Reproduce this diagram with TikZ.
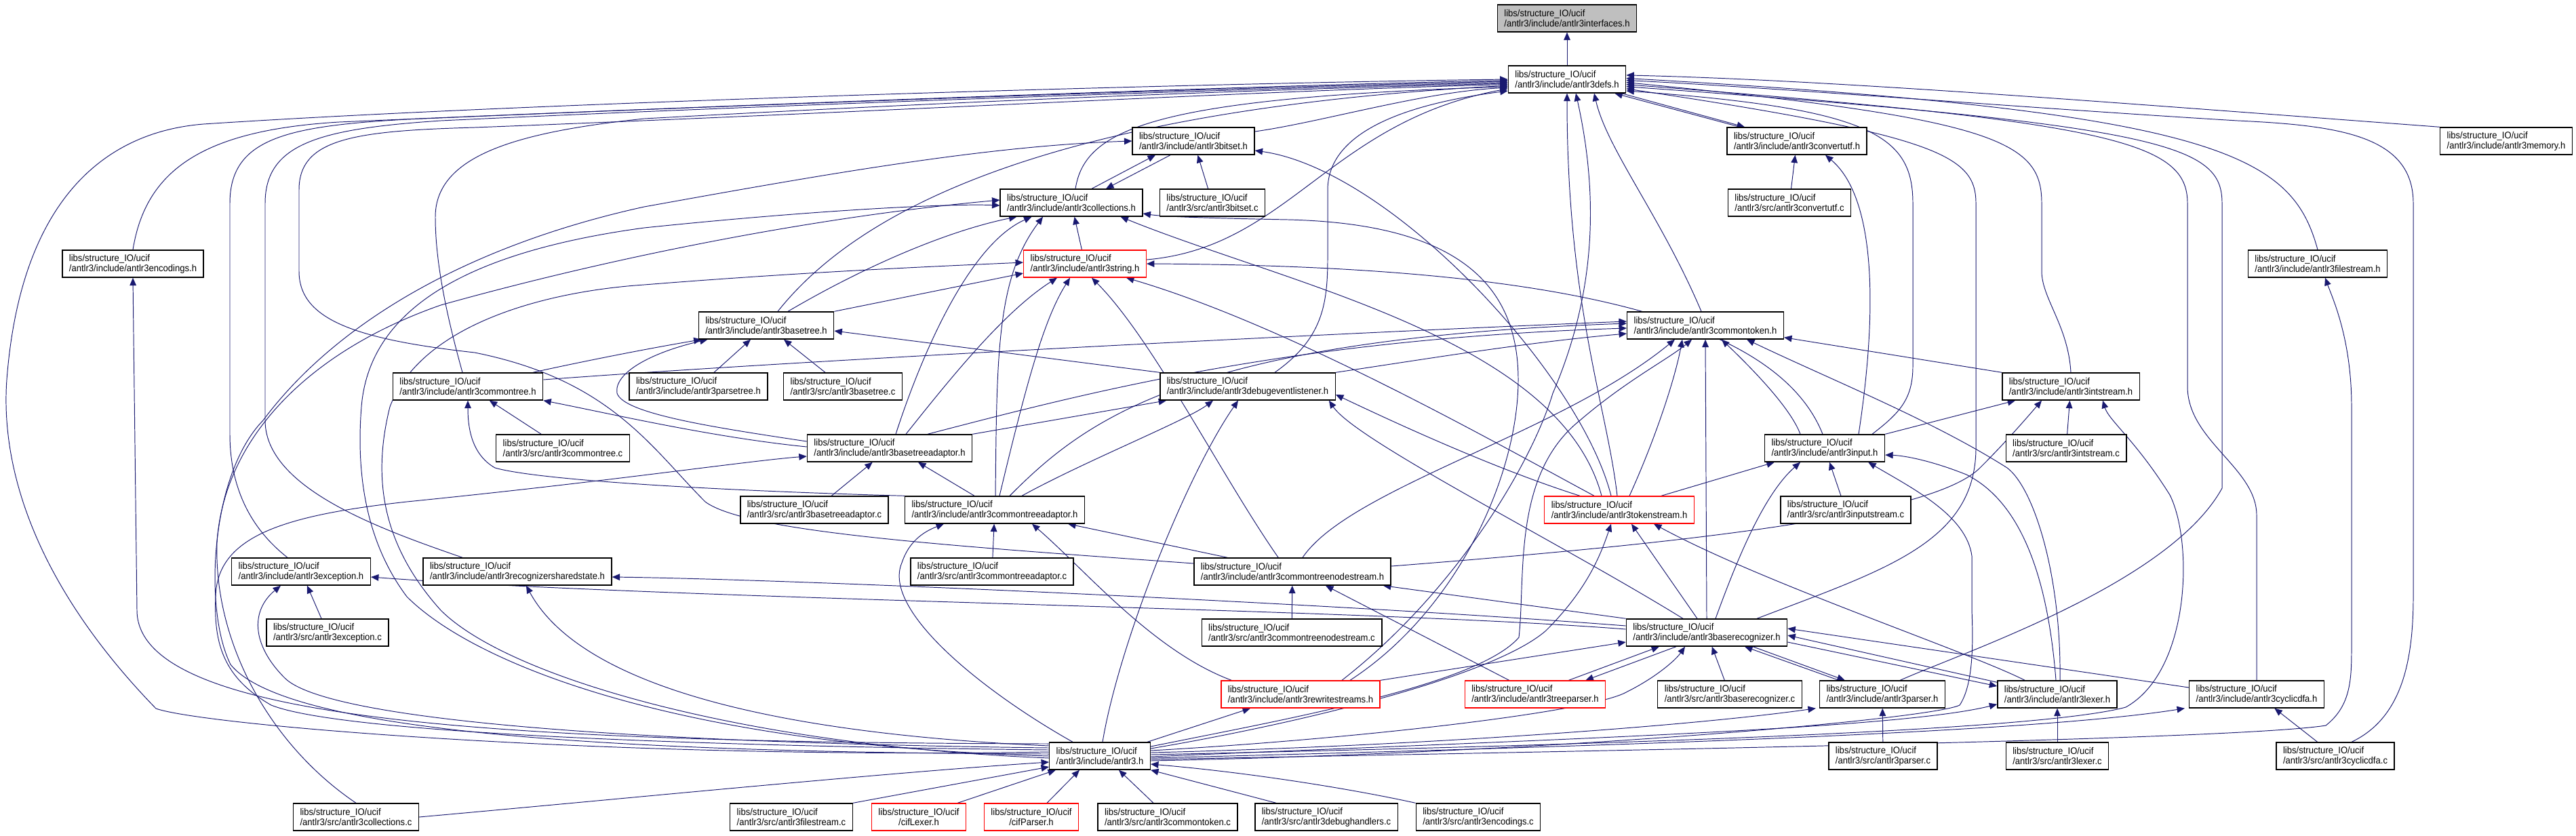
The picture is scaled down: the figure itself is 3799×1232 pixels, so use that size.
\documentclass[tikz,border=0pt]{standalone}
\usepackage{fontspec}
\usetikzlibrary{arrows.meta,calc,backgrounds}
\newfontfamily\doxyfont{Liberation Sans}[FakeStretch=0.93]
\definecolor{doxyedge}{HTML}{191970}
\definecolor{doxyroot}{HTML}{BFBFBF}
\tikzset{
  file/.style={draw=black, line width=0.8pt, fill=white, align=left,
    font=\doxyfont\fontsize{8pt}{8.6pt}\selectfont,
    inner xsep=0.2cm, inner ysep=0pt, minimum height=0.8cm},
  truncfile/.style={file, draw=red},
  rootfile/.style={file, fill=doxyroot},
  incl/.style={draw=doxyedge, line width=0.55pt, -{Triangle[length=6.5pt,width=5.5pt]}},
}
\newcommand{\ucif}{libs/structure\_IO/ucif}
\begin{document}
\begin{tikzpicture}[x=0.02cm, y=-0.02cm]
    \useasboundingbox (0,0) rectangle (3799,1232);

    % Headers
    \node[rootfile] (intf) at (2311,27) {\ucif\\/antlr3/include/antlr3interfaces.h};
    \node[file] (defs) at (2311,117) {\ucif\\/antlr3/include/antlr3defs.h};
    \node[file] (bitseth) at (1760,208) {\ucif\\/antlr3/include/antlr3bitset.h};
    \node[file] (cutfh) at (2650,208) {\ucif\\/antlr3/include/antlr3convertutf.h};
    \node[file] (memh) at (3696,208) {\ucif\\/antlr3/include/antlr3memory.h};
    \node[file] (collh) at (1580,299) {\ucif\\/antlr3/include/antlr3collections.h};
    \node[file] (ench) at (196,389) {\ucif\\/antlr3/include/antlr3encodings.h};
    \node[truncfile] (strh) at (1600,389) {\ucif\\/antlr3/include/antlr3string.h};
    \node[file] (fsh) at (3418,389) {\ucif\\/antlr3/include/antlr3filestream.h};
    \node[file] (btreeh) at (1130,480) {\ucif\\/antlr3/include/antlr3basetree.h};
    \node[file] (ctokh) at (2515,480) {\ucif\\/antlr3/include/antlr3commontoken.h};
    \node[file] (ctreeh) at (690,570) {\ucif\\/antlr3/include/antlr3commontree.h};
    \node[file] (ptreeh) at (1030,570) {\ucif\\/antlr3/include/antlr3parsetree.h};
    \node[file] (dbgh) at (1840,570) {\ucif\\/antlr3/include/antlr3debugeventlistener.h};
    \node[file] (intsh) at (3054,570) {\ucif\\/antlr3/include/antlr3intstream.h};
    \node[file] (btah) at (1312,661) {\ucif\\/antlr3/include/antlr3basetreeadaptor.h};
    \node[file] (inph) at (2691,661) {\ucif\\/antlr3/include/antlr3input.h};
    \node[file] (ctah) at (1467,752) {\ucif\\/antlr3/include/antlr3commontreeadaptor.h};
    \node[truncfile] (tsh) at (2388,752) {\ucif\\/antlr3/include/antlr3tokenstream.h};
    \node[file] (exch) at (444,843) {\ucif\\/antlr3/include/antlr3exception.h};
    \node[file] (rssh) at (763,843) {\ucif\\/antlr3/include/antlr3recognizersharedstate.h};
    \node[file] (ctnsh) at (1906,843) {\ucif\\/antlr3/include/antlr3commontreenodestream.h};
    \node[file] (brech) at (2517,933) {\ucif\\/antlr3/include/antlr3baserecognizer.h};
    \node[truncfile] (rwsh) at (1918,1024) {\ucif\\/antlr3/include/antlr3rewritestreams.h};
    \node[truncfile] (tph) at (2264,1024) {\ucif\\/antlr3/include/antlr3treeparser.h};
    \node[file] (parh) at (2776,1024) {\ucif\\/antlr3/include/antlr3parser.h};
    \node[file] (lexh) at (3034,1024) {\ucif\\/antlr3/include/antlr3lexer.h};
    \node[file] (cdfah) at (3328,1024) {\ucif\\/antlr3/include/antlr3cyclicdfa.h};
    \node[file] (antlrh) at (1622,1115) {\ucif\\/antlr3/include/antlr3.h};

    % Sources
    \node[file] (bitsetc) at (1788,299) {\ucif\\/antlr3/src/antlr3bitset.c};
    \node[file] (cutfc) at (2639,299) {\ucif\\/antlr3/src/antlr3convertutf.c};
    \node[file] (btreec) at (1243,570) {\ucif\\/antlr3/src/antlr3basetree.c};
    \node[file] (ctreec) at (830,661) {\ucif\\/antlr3/src/antlr3commontree.c};
    \node[file] (intsc) at (3047,661) {\ucif\\/antlr3/src/antlr3intstream.c};
    \node[file] (btac) at (1201,752) {\ucif\\/antlr3/src/antlr3basetreeadaptor.c};
    \node[file] (inpc) at (2722,752) {\ucif\\/antlr3/src/antlr3inputstream.c};
    \node[file] (ctac) at (1463,843) {\ucif\\/antlr3/src/antlr3commontreeadaptor.c};
    \node[file] (excc) at (483,933) {\ucif\\/antlr3/src/antlr3exception.c};
    \node[file] (ctnsc) at (1905,933) {\ucif\\/antlr3/src/antlr3commontreenodestream.c};
    \node[file] (brecc) at (2551,1024) {\ucif\\/antlr3/src/antlr3baserecognizer.c};
    \node[file] (parc) at (2777,1115) {\ucif\\/antlr3/src/antlr3parser.c};
    \node[file] (lexc) at (3034,1115) {\ucif\\/antlr3/src/antlr3lexer.c};
    \node[file] (cdfac) at (3444,1115) {\ucif\\/antlr3/src/antlr3cyclicdfa.c};
    \node[file] (collc) at (525,1205) {\ucif\\/antlr3/src/antlr3collections.c};
    \node[file] (fsc) at (1167,1205) {\ucif\\/antlr3/src/antlr3filestream.c};
    \node[truncfile, align=center] (ciflex) at (1355,1205) {\ucif\\/cifLexer.h};
    \node[truncfile, align=center] (cifpar) at (1521,1205) {\ucif\\/cifParser.h};
    \node[file] (ctokc) at (1722,1205) {\ucif\\/antlr3/src/antlr3commontoken.c};
    \node[file] (dbgc) at (1956,1205) {\ucif\\/antlr3/src/antlr3debughandlers.c};
    \node[file] (encc) at (2180,1205) {\ucif\\/antlr3/src/antlr3encodings.c};

    \begin{scope}[on background layer]
    % Into antlr3defs.h
    \draw[incl] (defs) -- (intf);
    \draw[incl] ($(defs.south east)+(-7,0)$) -- ($(cutfh.north)+(-77,0)$);
    \draw[incl] ($(cutfh.north)+(-84,0)$) -- ($(defs.south east)+(-17,0)$);
    \draw[incl] (memh.north west) .. controls (3100,150) and (2700,118) .. (defs.4);
    \draw[incl] (fsh.north) .. controls (3380,230) and (3280,165) .. (defs.1);
    \draw[incl] ($(cdfac.north)+(24,0)$) .. controls (3540,1060) and (3559,980) .. (3559,880) -- (3559,300) .. controls (3559,200) and (3450,185) .. (3300,178) .. controls (3000,160) and (2600,128) .. (defs.-1);
    \draw[incl] (intsh.north) .. controls (3050,480) and (3011,440) .. (3011,400) -- (3011,300) .. controls (3011,210) and (2950,175) .. (defs.-3);
    \draw[incl] (cdfah.north) -- (3328,760) .. controls (3328,690) and (3226,650) .. (3226,570) -- (3226,300) .. controls (3226,210) and (3120,180) .. (defs.-5);
    \draw[incl] ($(parh.north east)+(-67,0)$) .. controls (2900,960) and (3200,860) .. (3277,720) -- (3277,300) .. controls (3277,215) and (3200,185) .. (defs.-7);
    \draw[incl] ($(brech.north)+(74,0)$) .. controls (2780,840) and (2914,800) .. (2914,660) -- (2914,300) .. controls (2914,230) and (2860,200) .. (defs.-9);
    \draw[incl] ($(inph.north)+(70,0)$) .. controls (2800,610) and (2821,590) .. (2821,540) -- (2821,300) .. controls (2821,200) and (2760,160) .. (defs.-11);
    \draw[incl] ($(tsh.north)+(-3,0)$) .. controls (2370,600) and (2311,450) .. (defs.south);
    \draw[incl] ($(rwsh.north)+(61,0)$) .. controls (2150,870) and (2260,680) .. (2290,580) .. controls (2350,440) and (2360,300) .. ($(defs.south)+(13,0)$);
    \draw[incl] ($(ctokh.north)+(-6,0)$) .. controls (2450,320) and (2370,220) .. ($(defs.south)+(40,0)$);
    \draw[incl] ($(bitseth.east)+(0,-14)$) .. controls (1950,180) and (2100,135) .. (defs.188);
    \draw[incl] ($(collh.north)+(6,0)$) .. controls (1600,190) and (1700,145) .. (defs.187);
    \draw[incl] ($(strh.east)+(0,-6)$) .. controls (1900,365) and (1960,180) .. (defs.189);
    \draw[incl] ($(btreeh.north)+(17,0)$) .. controls (1250,330) and (1500,165) .. (defs.186);
    \draw[incl] ($(dbgh.north)+(40,0)$) .. controls (1950,500) and (1958,450) .. (1958,380) -- (1958,280) .. controls (1958,185) and (2100,150) .. (defs.191);
    \draw[incl] (ench.north) .. controls (215,250) and (300,192) .. (500,180) .. controls (1200,150) and (1900,125) .. (defs.181);
    \draw[incl] ($(exch.north)+(-20,0)$) .. controls (370,780) and (339,720) .. (339,640) -- (339,300) .. controls (339,205) and (420,186) .. (600,176) .. controls (1200,150) and (1900,127) .. (defs.182);
    \draw[incl] ($(rssh.north)+(-81,0)$) .. controls (560,780) and (391,720) .. (391,620) -- (391,300) .. controls (391,212) and (470,190) .. (650,178) .. controls (1200,152) and (1900,129) .. (defs.183);
    \draw[incl] ($(ctreeh.north)+(-8,0)$) .. controls (660,470) and (642,390) .. (642,320) .. controls (642,230) and (760,195) .. (950,175) .. controls (1500,145) and (1900,131) .. (defs.184);
    \draw[incl] ($(ctnsh.west)+(0,-12)$) .. controls (1400,805) and (1100,785) .. (1040,740) .. controls (960,660) and (900,560) .. (700,520) .. controls (520,500) and (441,470) .. (441,400) -- (441,280) .. controls (441,205) and (520,193) .. (700,188) .. controls (1300,165) and (1900,132) .. (defs.185);
    \draw[incl] ($(antlrh.west)+(0,-6)$) .. controls (900,1120) and (300,1070) .. (230,1045) .. controls (60,870) and (0,700) .. (10,560) .. controls (30,300) and (150,195) .. (300,183) .. controls (800,150) and (1800,122) .. (defs.180);

    % Upper headers
    \draw[incl] (cutfc) -- (cutfh);
    \draw[incl] ($(inph.north)+(50,0)$) .. controls (2770,450) and (2765,290) .. ($(cutfh.south)+(42,0)$);
    \draw[incl] ($(collh.north)+(30,0)$) -- ($(bitseth.south)+(-56,0)$);
    \draw[incl] ($(bitseth.south)+(-34,0)$) -- ($(collh.north)+(51,0)$);
    \draw[incl] (bitsetc) -- (bitseth);
    \draw[incl] ($(tsh.north)+(-12,0)$) .. controls (2330,550) and (2050,250) .. ($(bitseth.east)+(0,14)$);
    \draw[incl] (strh) -- (collh);
    \draw[incl] ($(antlrh.west)+(0,-3)$) .. controls (900,1110) and (420,1080) .. (340,980) .. controls (300,900) and (310,700) .. (388,620) .. controls (500,470) and (700,360) .. (950,305) .. controls (1200,260) and (1450,215) .. (bitseth.west);
    \draw[incl] ($(antlrh.west)+(0,0)$) .. controls (1000,1100) and (700,980) .. (600,880) .. controls (540,800) and (525,700) .. (533,600) .. controls (545,450) and (700,370) .. (950,336) .. controls (1200,310) and (1400,300) .. ($(collh.west)+(0,4)$);
    \draw[incl] (collc.north) .. controls (400,1100) and (315,950) .. (320,800) .. controls (330,650) and (450,520) .. (650,450) .. controls (900,380) and (1200,320) .. ($(collh.west)+(0,-4)$);
    \draw[incl] ($(antlrh.west)+(0,3)$) .. controls (1100,1100) and (750,1000) .. (650,900) .. controls (560,800) and (550,700) .. (575,600) .. controls (620,480) and (800,430) .. (950,420) .. controls (1200,400) and (1400,392) .. ($(strh.west)+(0,-2)$);

    % Trees
    \draw[incl] (btreeh.north east) -- ($(strh.west)+(0,14)$);
    \draw[incl] ($(btreeh.north)+(32,0)$) .. controls (1280,390) and (1400,340) .. ($(collh.south west)+(25,0)$);
    \draw[incl] (ptreeh) -- (btreeh);
    \draw[incl] (btreec) -- (btreeh);
    \draw[incl] ($(ctreeh.north)+(96,0)$) .. controls (850,535) and (950,515) .. ($(btreeh.south west)+(5,0)$);
    \draw[incl] ($(btah.west)+(0,-10)$) .. controls (1050,630) and (920,610) .. (910,580) .. controls (905,550) and (960,520) .. ($(btreeh.south west)+(14,0)$);
    \draw[incl] ($(btah.west)+(0,-2)$) .. controls (1050,645) and (900,610) .. (ctreeh.south east);
    \draw[incl] (dbgh.north west) -- ($(btreeh.east)+(0,8)$);
    \draw[incl] (ctreec) -- (ctreeh);
    \draw[incl] (ctah.north west) .. controls (1100,725) and (800,710) .. (730,690) .. controls (695,670) and (690,630) .. (ctreeh.south);
    \draw[incl] ($(ctreeh.east)+(0,-10)$) .. controls (1200,530) and (2000,490) .. ($(ctokh.west)+(0,-6)$);
    \draw[incl] (btac) -- (btah);
    \draw[incl] ($(ctah.north)+(-30,0)$) -- ($(btah.south)+(42,0)$);
    \draw[incl] ($(btah.north)+(9,0)$) .. controls (1360,520) and (1430,360) .. ($(collh.south west)+(47,0)$);
    \draw[incl] ($(btah.north)+(24,0)$) .. controls (1400,560) and (1480,460) .. ($(strh.south west)+(50,0)$);
    \draw[incl] ($(btah.north)+(56,0)$) .. controls (1600,580) and (1900,500) .. ($(ctokh.west)+(0,4)$);
    \draw[incl] (btah.north east) -- ($(dbgh.south west)+(10,0)$);
    \draw[incl] (ctac) -- (ctah);
    \draw[incl] ($(antlrh.north)+(-40,0)$) .. controls (1450,1020) and (1300,900) .. (1330,830) .. controls (1340,800) and (1360,785) .. ($(ctah.south)+(-75,0)$);
    \draw[incl] ($(rwsh.north west)+(16,0)$) .. controls (1700,960) and (1600,840) .. ($(ctah.south)+(55,0)$);
    \draw[incl] ($(ctnsh.north west)+(50,0)$) -- ($(ctah.south east)+(-25,0)$);
    \draw[incl] ($(ctah.north)+(1,0)$) .. controls (1470,520) and (1470,410) .. ($(collh.south)+(-42,0)$);
    \draw[incl] ($(ctah.north)+(7,0)$) .. controls (1515,560) and (1540,470) .. ($(strh.south)+(-22,0)$);
    \draw[incl] ($(ctah.north)+(22,0)$) .. controls (1600,620) and (1750,500) .. ($(ctokh.west)+(0,-3)$);
    \draw[incl] ($(ctah.north)+(40,0)$) .. controls (1600,680) and (1750,620) .. ($(dbgh.south)+(-51,0)$);

    % Debug listener, tokens, strings
    \draw[incl] ($(antlrh.north)+(4,0)$) .. controls (1650,950) and (1750,700) .. ($(dbgh.south)+(-14,0)$);
    \draw[incl] ($(brech.north)+(-35,0)$) .. controls (2300,800) and (2000,650) .. ($(dbgh.south east)+(-10,0)$);
    \draw[incl] ($(tsh.north)+(-58,0)$) .. controls (2200,690) and (2050,620) .. ($(dbgh.east)+(0,12)$);
    \draw[incl] (dbgh.north east) .. controls (2100,530) and (2250,505) .. ($(ctokh.west)+(0,12)$);
    \draw[incl] ($(ctnsh.north west)+(125,0)$) .. controls (1800,700) and (1700,500) .. ($(strh.south)+(10,0)$);
    \draw[incl] ($(tsh.north)+(-37,0)$) .. controls (2200,650) and (1900,480) .. ($(strh.south east)+(-30,0)$);
    \draw[incl] ($(inph.north)+(-3,0)$) .. controls (2620,470) and (2300,392) .. (strh.east);
    \draw[incl] ($(inph.north)+(-36,0)$) .. controls (2640,600) and (2580,540) .. ($(ctokh.south)+(24,0)$);
    \draw[incl] ($(tsh.north)+(15,0)$) .. controls (2440,650) and (2470,560) .. ($(ctokh.south)+(-34,0)$);
    \draw[incl] ($(antlrh.east)+(0,-14)$) .. controls (1900,1060) and (2180,1010) .. (2240,940) .. controls (2250,850) and (2230,700) .. (2330,620) .. controls (2400,560) and (2460,530) .. ($(ctokh.south)+(-20,0)$);
    \draw[incl] (brech.north) -- (ctokh.south);
    \draw[incl] ($(lexh.north)+(4,0)$) .. controls (3040,850) and (3000,720) .. (2960,690) .. controls (2850,620) and (2700,560) .. ($(ctokh.south east)+(-55,0)$);
    \draw[incl] (intsh.north west) -- ($(ctokh.south east)+(0,-3)$);
    \draw[incl] ($(ctnsh.north)+(15,0)$) .. controls (1990,720) and (2300,640) .. ($(ctokh.south)+(-45,0)$);

    % Streams
    \draw[incl] (inph.north east) -- ($(intsh.south west)+(20,0)$);
    \draw[incl] (intsc) -- (intsh);
    \draw[incl] ($(antlrh.east)+(0,-2)$) .. controls (2300,1100) and (3000,1080) .. (3135,1043) .. controls (3230,990) and (3235,800) .. (3200,730) .. controls (3150,650) and (3110,620) .. ($(intsh.south)+(47,0)$);
    \draw[incl] ($(ctnsh.east)+(0,-8)$) .. controls (2500,800) and (2850,760) .. (2920,690) .. controls (2960,650) and (2990,615) .. ($(intsh.south)+(-43,0)$);
    \draw[incl] (inpc) -- (inph);
    \draw[incl] ($(tsh.north east)+(-49,0)$) -- ($(inph.south west)+(15,0)$);
    \draw[incl] ($(brech.north)+(13,0)$) .. controls (2560,830) and (2600,730) .. ($(inph.south)+(-36,0)$);
    \draw[incl] ($(lexh.north)+(-2,0)$) .. controls (3020,850) and (2980,740) .. (2900,700) .. controls (2850,680) and (2810,672) .. ($(inph.east)+(0,10)$);
    \draw[incl] ($(antlrh.east)+(0,7)$) .. controls (2300,1110) and (2850,1060) .. (2890,1040) .. controls (2910,1010) and (2910,950) .. (2908,900) -- (2908,820) .. controls (2900,760) and (2820,720) .. ($(inph.south east)+(-25,0)$);
    \draw[incl] ($(tsh.north)+(-26,0)$) .. controls (2300,500) and (1900,420) .. ($(collh.south east)+(-33,0)$);
    \draw[incl] ($(brech.north)+(-14,0)$) -- ($(tsh.south)+(18,0)$);
    \draw[incl] ($(antlrh.east)+(0,-11)$) .. controls (1900,1070) and (2200,1000) .. (2280,930) .. controls (2340,870) and (2360,820) .. ($(tsh.south)+(-12,0)$);
    \draw[incl] ($(lexh.north west)+(41,0)$) .. controls (2900,960) and (2600,860) .. ($(tsh.south east)+(-60,0)$);

    % Recognizers
    \draw[incl] (brech.north west) -- ($(ctnsh.south east)+(-12,0)$);
    \draw[incl] ($(brech.west)+(0,-5)$) .. controls (2000,897) and (1000,885) .. ($(exch.east)+(0,8)$);
    \draw[incl] ($(brech.west)+(0,-10)$) .. controls (2000,892) and (1200,855) .. ($(rssh.east)+(0,8)$);
    \draw[incl] ($(tph.north east)+(-55,0)$) -- ($(brech.south)+(-70,0)$);
    \draw[incl] ($(brech.south)+(-45,0)$) -- ($(tph.north east)+(-30,0)$);
    \draw[incl] (brecc) -- (brech);
    \draw[incl] ($(parh.north west)+(29,0)$) -- ($(brech.south)+(56,0)$);
    \draw[incl] ($(brech.south)+(68,0)$) -- ($(parh.north west)+(38,0)$);
    \draw[incl] ($(lexh.north west)+(0,3)$) -- ($(brech.east)+(0,4)$);
    \draw[incl] ($(brech.east)+(0,14)$) -- ($(lexh.west)+(0,-12)$);
    \draw[incl] ($(cdfah.west)+(0,-10)$) -- ($(brech.east)+(0,-6)$);
    \draw[incl] ($(antlrh.east)+(0,-8)$) .. controls (2000,1090) and (2350,1050) .. (2400,1020) .. controls (2440,1000) and (2470,975) .. ($(brech.south)+(-32,0)$);
    \draw[incl] (rwsh.north east) -- ($(brech.west)+(0,14)$);
    \draw[incl] ($(rwsh.north)+(73,0)$) .. controls (2150,900) and (2239,700) .. (2239,560) .. controls (2239,420) and (2150,330) .. (1900,324) .. controls (1800,322) and (1720,320) .. ($(collh.east)+(0,16)$);
    \draw[incl] ($(antlrh.north east)+(-5,0)$) -- ($(rwsh.south)+(-74,0)$);
    \draw[incl] ($(tph.north west)+(66,0)$) -- ($(ctnsh.south)+(49,0)$);
    \draw[incl] (ctnsc) -- (ctnsh);
    \draw[incl] (excc) -- (exch);
    \draw[incl] ($(antlrh.west)+(0,-12)$) .. controls (900,1095) and (480,1060) .. (420,1000) .. controls (370,950) and (370,900) .. ($(exch.south)+(-30,0)$);
    \draw[incl] ($(antlrh.west)+(0,-15)$) .. controls (1100,1080) and (850,1000) .. ($(rssh.south)+(13,0)$);
    \draw[incl] ($(antlrh.west)+(0,-18)$) .. controls (700,1095) and (202,1060) .. (202,900) -- (ench.south);
    \draw[incl] ($(antlrh.west)+(0,-9)$) .. controls (1000,1100) and (500,1080) .. (400,1040) .. controls (330,1000) and (315,950) .. (318,880) .. controls (320,790) and (420,760) .. (600,740) .. controls (900,710) and (1100,680) .. ($(btah.west)+(0,12)$);

    % From antlr3.h to the right
    \draw[incl] ($(antlrh.east)+(0,-5)$) .. controls (2100,1100) and (2500,1070) .. ($(parh.south west)+(-5,0)$);
    \draw[incl] ($(antlrh.east)+(0,1)$) .. controls (2300,1090) and (2800,1075) .. ($(lexh.south west)+(0,-6)$);
    \draw[incl] ($(antlrh.east)+(0,3)$) .. controls (2400,1100) and (3000,1080) .. ($(cdfah.south west)+(-6,0)$);
    \draw[incl] ($(antlrh.east)+(0,5)$) .. controls (2500,1105) and (3300,1090) .. (3430,1070) .. controls (3468,1040) and (3468,1000) .. (3468,950) -- (3468,600) .. controls (3468,500) and (3440,440) .. ($(fsh.south)+(11,0)$);
    \draw[incl] (cdfac) -- (cdfah);
    \draw[incl] (lexc) -- (lexh);
    \draw[incl] (parc) -- (parh);

    % Into antlr3.h
    \draw[incl] (collc.east) .. controls (900,1180) and (1300,1140) .. ($(antlrh.west)+(0,9)$);
    \draw[incl] (fsc.north east) -- ($(antlrh.west)+(0,16)$);
    \draw[incl] ($(ciflex.north east)+(-13,0)$) -- ($(antlrh.south west)+(10,0)$);
    \draw[incl] ($(cifpar.north)+(23,0)$) -- ($(antlrh.south)+(-30,0)$);
    \draw[incl] ($(ctokc.north)+(-21,0)$) -- ($(antlrh.south)+(28,0)$);
    \draw[incl] ($(dbgc.north west)+(32,0)$) -- (antlrh.south east);
    \draw[incl] (encc.north west) .. controls (2000,1165) and (1850,1140) .. ($(antlrh.east)+(0,12)$);
    \end{scope}
\end{tikzpicture}
\end{document}
